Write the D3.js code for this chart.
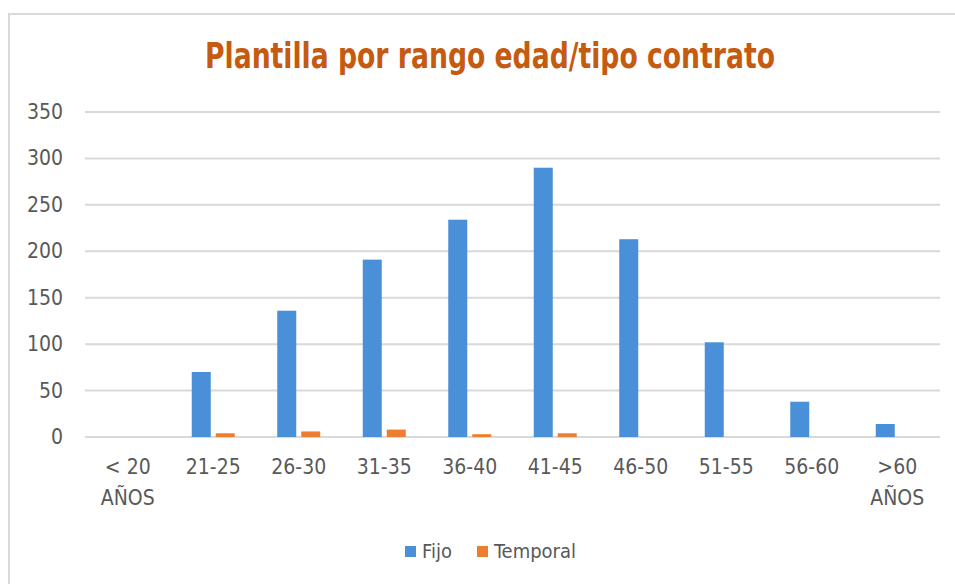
<!DOCTYPE html>
<html>
<head>
<meta charset="utf-8">
<script src="https://cdn.jsdelivr.net/npm/d3@7"></script>
<style>
  body { margin: 0; background: #fff; }
  svg text { font-family: "Liberation Sans Narrow", "DejaVu Sans Condensed", "Liberation Sans", sans-serif; }
</style>
</head>
<body>
<svg id="chart" width="955" height="584"></svg>
<script>
// data
const categories = ["< 20\nAÑOS", "21-25", "26-30", "31-35", "36-40", "41-45", "46-50", "51-55", "56-60", ">60\nAÑOS"];
const fijo = [0, 70, 136, 191, 234, 290, 213, 102, 38, 14];
const temporal = [0, 4, 6, 8, 3, 4, 0, 0, 0, 0];
const seriesNames = ["Fijo", "Temporal"];
const yTicks = [0, 50, 100, 150, 200, 250, 300, 350];

const colors = ["#4A90D9", "#ED7D31"];
const svg = d3.select("#chart");

// outer border (chart area continues past the window)
svg.append("rect")
    .attr("x", 9).attr("y", 14)
    .attr("width", 960).attr("height", 600)
    .attr("fill", "#fff")
    .attr("stroke", "#d9d9d9")
    .attr("stroke-width", 2);

// title - squeezed to match the narrow font of the original
svg.append("text")
    .attr("x", 490).attr("y", 68)
    .attr("text-anchor", "middle")
    .attr("fill", "#C55A11")
    .attr("textLength", 570)
    .attr("lengthAdjust", "spacingAndGlyphs")
    .style("font-size", "35px")
    .style("font-weight", "bold")
    .text("Plantilla por rango edad/tipo contrato");

let margin = {left: 85, right: 940, top: 112, bottom: 437};

let x = d3.scaleBand()
    .domain(d3.range(categories.length))
    .range([margin.left, margin.right]);

let y = d3.scaleLinear()
    .domain([0, 350])
    .range([margin.bottom, margin.top]);

// gridlines
svg.append("g")
    .selectAll("line")
    .data(yTicks)
    .enter()
    .append("line")
    .attr("x1", margin.left).attr("x2", margin.right)
    .attr("y1", d => y(d)).attr("y2", d => y(d))
    .attr("stroke", "#d9d9d9")
    .attr("stroke-width", 2);

// y labels
svg.append("g")
    .selectAll("text")
    .data(yTicks)
    .enter()
    .append("text")
    .attr("x", 63)
    .attr("y", d => y(d) + 7)
    .attr("text-anchor", "end")
    .attr("fill", "#595959")
    .style("font-size", "21px")
    .text(d => d);

// bars
let barW = 19;
let offsets = [-21.5, 2.5];
[fijo, temporal].forEach((vals, s) => {
    svg.append("g")
        .selectAll("rect")
        .data(vals)
        .enter()
        .append("rect")
        .attr("x", (d, i) => x(i) + x.bandwidth() / 2 + offsets[s])
        .attr("y", d => y(d))
        .attr("width", barW)
        .attr("height", d => y(0) - y(d))
        .attr("fill", colors[s]);
});

// x labels
let xl = svg.append("g")
    .selectAll("text")
    .data(categories)
    .enter()
    .append("text")
    .attr("text-anchor", "middle")
    .attr("fill", "#595959")
    .style("font-size", "21px");
xl.each(function (d, i) {
    let lines = d.split("\n");
    d3.select(this).selectAll("tspan")
        .data(lines)
        .enter()
        .append("tspan")
        .attr("x", x(i) + x.bandwidth() / 2)
        .attr("y", (l, j) => 474 + j * 31)
        .text(l => l);
});

// legend
let legendX = [405, 477];
seriesNames.forEach((name, s) => {
    svg.append("rect")
        .attr("x", legendX[s]).attr("y", 546)
        .attr("width", 11).attr("height", 11)
        .attr("fill", colors[s]);
    svg.append("text")
        .attr("x", legendX[s] + 17).attr("y", 558)
        .attr("fill", "#595959")
        .style("font-size", "20px")
        .text(name);
});
</script>
</body>
</html>
